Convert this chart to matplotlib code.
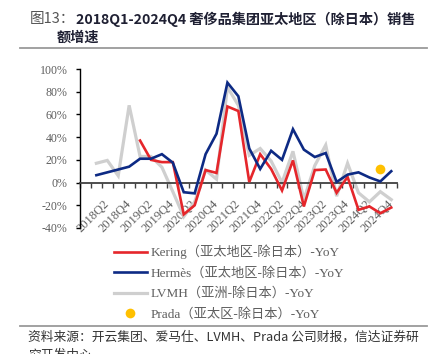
import numpy as np
import matplotlib
matplotlib.use("Agg")
import matplotlib.pyplot as plt
from matplotlib.lines import Line2D

# ---------------- data ----------------
quarters = [""] + [f"{y}Q{q}" for y in range(2018, 2025) for q in range(1, 5)]
nan = np.nan
kering = [nan, nan, nan, nan, 37, 20, 18, 18, -28, -20, 11, 8.5, 67, 63, 0.5, 25,
          12, -7, 19.5, -21, 11, 11.5, -9, 5, -24, -21, -27, -22]
hermes = [6.5, 9, 11.5, 14, 21, 21, 25, 17.5, -8.5, -9.5, 25, 43, 88, 76, 30, 12,
          28, 20, 47, 29, 22.5, 26, 0.5, 7, 9, 4.5, 1, 10]
lvmh = [17, 19.5, 6, 68, 23, 23, 13.5, -8, -30, -17, 11, 3, 84, 68, 24, 30,
        19, 0, 27.5, -15, 15, 33, -12, 17, -9, -17, -8, -15]
prada = [nan] * 26 + [12, nan]

labels = ["Kering（亚太地区-除日本）-YoY",
          "Hermès（亚太地区-除日本）-YoY",
          "LVMH（亚洲-除日本）-YoY",
          "Prada（亚太区-除日本）-YoY"]
yticks = [-40, -20, 0, 20, 40, 60, 80, 100]

title1a = "图13："
title1b = "2018Q1-2024Q4 奢侈品集团亚太地区（除日本）销售"
title2 = "额增速"
source = "资料来源：开云集团、爱马仕、LVMH、Prada 公司财报，信达证券研\n究开发中心"

# ---------------- style ----------------
RED = "#E5262B"
BLUE = "#0D2A84"
GRAY = "#CFCFCF"
YEL = "#FFC000"
TXT = "#5f5f5f"
LAT = ["Liberation Serif", "Noto Sans CJK SC"]
CJK = ["Noto Sans CJK SC", "DejaVu Sans"]

W, H = 433, 354
fig = plt.figure(figsize=(W / 100, H / 100), dpi=100)

def fx(px):
    return px / W

def fy(py):
    return 1 - py / H

ax = fig.add_axes([fx(80), fy(228), fx(396.7) - fx(80), fy(69) - fy(228)])

n = len(quarters)
xs = np.arange(1, n) + 0.5

l1, = ax.plot(xs, kering, color=RED, lw=1.9, solid_joinstyle="miter", zorder=3)
l2, = ax.plot(xs, hermes, color=BLUE, lw=1.9, solid_joinstyle="miter", zorder=4)
l3, = ax.plot(xs, lvmh, color=GRAY, lw=2.3, solid_joinstyle="miter", zorder=2)
l4, = ax.plot(xs, prada, linestyle="none", marker="o", ms=7, color=YEL,
              markeredgewidth=0, zorder=5)

ax.set_xlim(0, n)
ax.set_ylim(-40, 100)

for s in ["top", "right"]:
    ax.spines[s].set_visible(False)
ax.spines["bottom"].set_position(("data", 0))
ax.spines["bottom"].set_color("#404040")
ax.spines["bottom"].set_linewidth(1.3)
ax.spines["left"].set_color("#000000")
ax.spines["left"].set_linewidth(1.0)

ax.set_yticks(yticks)
ax.set_yticklabels([f"{v}%" for v in yticks], family=LAT, fontsize=8.6, color=TXT)
ax.tick_params(axis="y", direction="out", length=3, width=1, color="#000000", pad=6)

# category boundaries as minor ticks, labels at category centres
ax.set_xticks(np.arange(0, n + 1), minor=True)
ax.set_xticks(np.arange(0, n, 2) + 0.5)
ax.set_xticklabels(quarters[0::2], rotation=45, ha="right", va="center",
                   rotation_mode="anchor", family=LAT, fontsize=9, color=TXT)
ax.tick_params(axis="x", which="major", length=0, pad=14)
ax.tick_params(axis="x", which="minor", direction="out", length=3.5, width=1,
               color="#404040")

leg = ax.legend([l1, l2, l3, l4], labels, loc="upper left",
                bbox_to_anchor=(fx(114), fy(244.5)), bbox_transform=fig.transFigure,
                frameon=False, handlelength=2.5, handletextpad=0.3,
                labelspacing=0.58, borderpad=0, borderaxespad=0,
                prop={"family": LAT, "size": 9.5})
for t in leg.get_texts():
    t.set_color(TXT)

# title
fig.text(fx(30), fy(19), title1a, family=CJK, fontsize=10.5, color="#555555",
         va="center", ha="left")
fig.text(fx(76), fy(19), title1b, family=CJK, fontsize=10.2, fontweight="bold",
         color="#1f2033", va="center", ha="left")
fig.text(fx(57), fy(38), title2, family=CJK, fontsize=10.2, fontweight="bold",
         color="#1f2033", va="center", ha="left")

fig.add_artist(Line2D([fx(20), fx(427)], [fy(48), fy(48)], color="#9a9a9a", lw=1.3,
                      transform=fig.transFigure))
fig.add_artist(Line2D([fx(20), fx(427)], [fy(326), fy(326)], color="#9a9a9a", lw=1.3,
                      transform=fig.transFigure))

fig.text(fx(28), fy(331), source, family=CJK, fontsize=9.2, color="#333333",
         va="top", ha="left", linespacing=1.45)

fig.savefig("out.png", dpi=100)
